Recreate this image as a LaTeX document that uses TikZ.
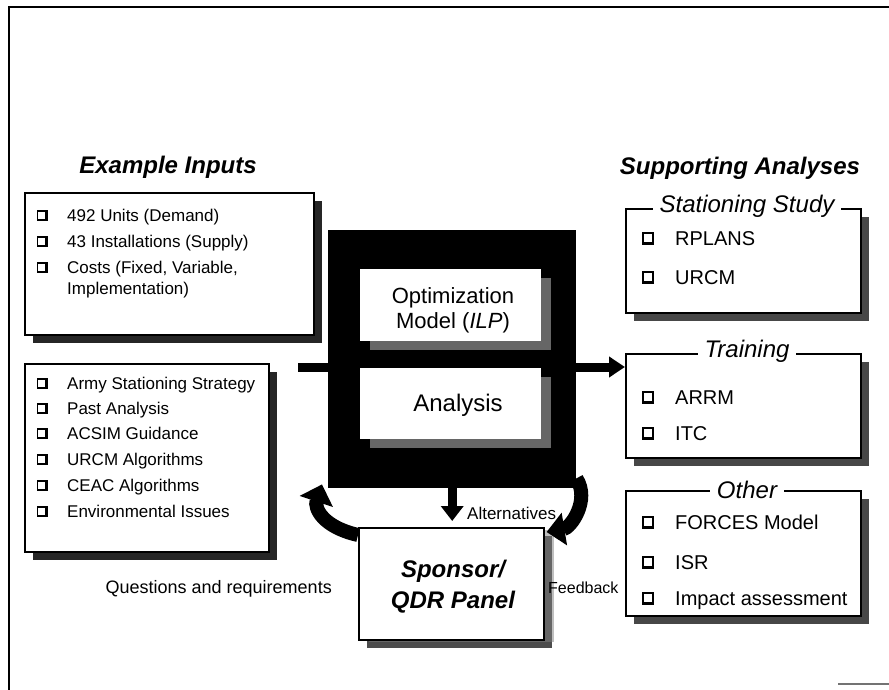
\documentclass[tikz,border=0pt]{standalone}
\usepackage{fontspec}
\setmainfont{Liberation Sans}
\usetikzlibrary{arrows.meta,shadows,calc}

\newcommand{\fsz}[1]{\fontsize{#1}{#1}\selectfont}

\tikzset{
  % shadowed check-box bullet
  chk/.pic={
    \fill[black] (-5.5,-5) rectangle (5.5,6);
    \fill[white] (-3.8,-3.3) rectangle (3.3,3.6);
  },
  panel/.style={draw=black, line width=1.6pt, fill=white, inner sep=0pt, anchor=north west,
    drop shadow={shadow xshift=8pt, shadow yshift=-8pt, fill=#1, opacity=1}},
  panel/.default=black!82,
  innerbox/.style={fill=white, inner sep=0pt, anchor=north west,
    drop shadow={shadow xshift=10pt, shadow yshift=-9pt, fill=black!60, opacity=1}},
  itemS/.style={anchor=base west, inner sep=0pt, font=\fsz{17}},
  itemL/.style={anchor=base west, inner sep=0pt, font=\fsz{20}},
  heading/.style={anchor=base, inner sep=0pt, font=\fsz{24}\bfseries\itshape},
  legend/.style={anchor=base, fill=white, inner xsep=7pt, inner ysep=1pt, font=\fsz{24}\itshape},
  lbl/.style={inner sep=0pt, font=\fsz{17}},
  bigarrow/.style={line width=9pt},
  bigchk/.style={scale=1.15},
}

\begin{document}
\begin{tikzpicture}[x=1pt,y=-1pt]
\useasboundingbox (0,0) rectangle (889,690);

% frame
\draw[line width=2pt] (889,7) -| (9,690);
\draw[black!55, line width=1.2pt] (838,684) -- (889,684);

% ---------- inputs ----------
\node[heading] (hin) at (168,174) {Example Inputs};

\node[panel=black!85, minimum width=289pt, minimum height=142pt] (inA) at (24,192) {};
\pic at (42,215) {chk}; \node[itemS] (a1) at (67,221) {492 Units (Demand)};
\pic at (42,241) {chk}; \node[itemS] (a2) at (67,247) {43 Installations (Supply)};
\pic at (42,267) {chk}; \node[itemS] (a3) at (67,273) {Costs (Fixed, Variable,};
\node[itemS] (a3b) at (67,294) {Implementation)};

\node[panel=black!85, minimum width=244pt, minimum height=188pt] (inB) at (24,363) {};
\pic at (42,383) {chk}; \node[itemS] (b1) at (67,389) {Army Stationing Strategy};
\pic at (42,408) {chk}; \node[itemS] (b2) at (67,414) {Past Analysis};
\pic at (42,433) {chk}; \node[itemS] (b3) at (67,439) {ACSIM Guidance};
\pic at (42,459) {chk}; \node[itemS] (b4) at (67,465) {URCM Algorithms};
\pic at (42,485) {chk}; \node[itemS] (b5) at (67,491) {CEAC Algorithms};
\pic at (42,511) {chk}; \node[itemS] (b6) at (67,517) {Environmental Issues};

% ---------- model core ----------
\node[fill=black, inner sep=0pt, anchor=north west, minimum width=248pt, minimum height=258pt] (core) at (328,230) {};
\node[innerbox, minimum width=181pt, minimum height=72pt] (opt) at (360,269) {};
\node[innerbox, minimum width=181pt, minimum height=71pt] (ana) at (360,368) {};
\node[inner sep=0pt, align=center, font=\fontsize{22}{25}\selectfont] (optT) at (453,310) {Optimization\\Model (\textit{ILP})};
\node[anchor=base, inner sep=0pt, font=\fsz{24}] (anaT) at (458,411) {Analysis};

% ---------- sponsor ----------
\node[panel=black!70, minimum width=185pt, minimum height=112pt, drop shadow={shadow xshift=10pt}] (spn) at (358,527) {};
\node[inner sep=0pt, align=center, font=\fontsize{24}{31}\selectfont\bfseries\itshape] (spnT) at (453,586.5) {Sponsor/\\QDR Panel};

% ---------- supporting analyses ----------
\node[heading] (hsup) at (740,175) {Supporting Analyses};

\node[panel=black!72, minimum width=235pt, minimum height=104pt] (sta) at (625,208) {};
\node[legend] (staT) at (747,212) {Stationing Study};
\pic[bigchk] at (648,238) {chk}; \node[itemL] (s1) at (675,245) {RPLANS};
\pic[bigchk] at (648,277) {chk}; \node[itemL] (s2) at (675,284) {URCM};

\node[panel=black!72, minimum width=235pt, minimum height=104pt] (trn) at (625,353) {};
\node[legend] (trnT) at (747,357) {Training};
\pic[bigchk] at (648,397) {chk}; \node[itemL] (t1) at (675,404) {ARRM};
\pic[bigchk] at (648,433) {chk}; \node[itemL] (t2) at (675,440) {ITC};

\node[panel=black!72, minimum width=235pt, minimum height=125pt] (oth) at (625,490) {};
\node[legend] (othT) at (747,498) {Other};
\pic[bigchk] at (648,522) {chk}; \node[itemL] (o1) at (675,529) {FORCES Model};
\pic[bigchk] at (648,562) {chk}; \node[itemL] (o2) at (675,569) {ISR};
\pic[bigchk] at (648,598) {chk}; \node[itemL] (o3) at (675,605) {Impact assessment};

% ---------- connectors ----------
\coordinate (barL) at (298,367);
\draw[bigarrow] (barL) -- (barL -| core.west);
\draw[bigarrow, -{Triangle[width=20pt,length=16pt]}] (barL -| core.east) -- (barL -| trn.west);
\draw[bigarrow, -{Triangle[width=22pt,length=15pt]}, shorten >=6pt] (core.south) -- (core.south |- spn.north);

\draw[line width=14pt, -{Triangle[width=34pt,length=18pt]}]
  ($(spn.north west)+(0,8)$) .. controls +(-35,-8) and +(-8,24) .. ($(core.south west)+(-6,-4)$);
\draw[line width=14pt, -{Triangle[width=32pt,length=18pt]}]
  ($(core.south east)+(0,-10)$) .. controls +(14,22) and +(24,-4) .. ($(spn.north east)+(2,5)$);

% ---------- labels ----------
\node[lbl, anchor=base west] (altL) at (467,519) {Alternatives};
\node[lbl, anchor=base east, font=\fsz{18}] (qrL) at (332,593) {Questions and requirements};
\node[lbl, anchor=base west, font=\fsz{16}] (fbL) at (548,593) {Feedback};
\end{tikzpicture}
\end{document}
